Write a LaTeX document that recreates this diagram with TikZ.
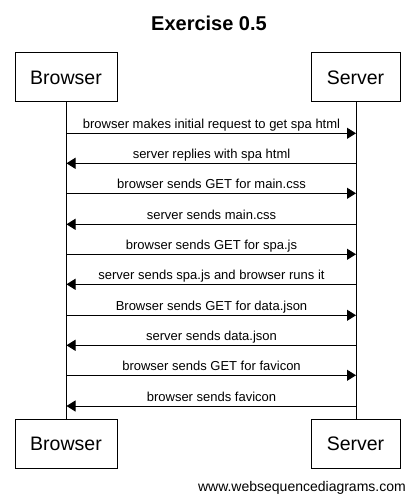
\documentclass[tikz,border=0pt]{standalone}
\usepackage{fontspec}
\setmainfont{Liberation Sans}
\usetikzlibrary{arrows.meta}
\begin{document}
\begin{tikzpicture}[x=1pt,y=-1pt,
  actor/.style={draw=black,line width=1pt,fill=white,minimum height=49pt,inner sep=0pt,font=\fontsize{19.5}{22}\selectfont},
  life/.style={draw=black,line width=1pt},
  msg/.style={draw=black,line width=1pt,-{Triangle[length=9pt,width=11pt]}},
  lbl/.style={anchor=base,inner sep=0pt,font=\fontsize{13}{15}\selectfont}]
\useasboundingbox[fill=white] (0,0) rectangle (415,502);
\node[anchor=base,inner sep=0pt,font=\fontsize{20}{24}\selectfont\bfseries] (title) at (209,31) {Exercise 0.5};
\node[actor,minimum width=102pt] (bt) at (66,77.5) {Browser};
\node[actor,minimum width=89pt] (st) at (355.5,77.5) {Server};
\node[actor,minimum width=102pt] (bb) at (66,443.8) {Browser};
\node[actor,minimum width=89pt] (sb) at (355.5,443.8) {Server};
\coordinate (bx) at (66.5,0);
\coordinate (sx) at (356,0);
\draw[life] (bt.south -| bx) -- (bb.north -| bx);
\draw[life] (st.south -| sx) -- (sb.north -| sx);
\foreach \y/\d/\t [count=\i] in {
  133.3/r/browser makes initial request to get spa html,
  163.3/l/server replies with spa html,
  193.3/r/browser sends GET for main.css,
  224.3/l/server sends main.css,
  254.3/r/browser sends GET for spa.js,
  284.3/l/server sends spa.js and browser runs it,
  315.3/r/Browser sends GET for data.json,
  345.3/l/server sends data.json,
  375.3/r/browser sends GET for favicon,
  406/l/browser sends favicon}{
  \coordinate (b\i) at (66.5,\y);
  \coordinate (s\i) at (356,\y);
  \if r\d
    \draw[msg] (b\i) -- (s\i);
  \else
    \draw[msg] (s\i) -- (b\i);
  \fi
  \node[lbl] (m\i) at (211.5,\y-4.5) {\t};
}
\node[anchor=base east,inner sep=0pt,font=\fontsize{14}{16}\selectfont] (wm) at (406,491) {www.websequencediagrams.com};
\end{tikzpicture}
\end{document}
